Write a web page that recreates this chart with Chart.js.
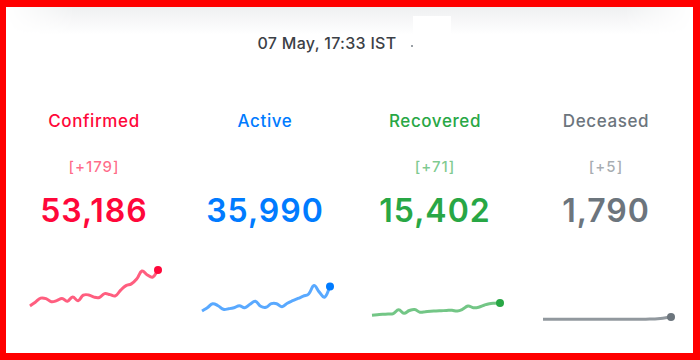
<!DOCTYPE html>
<html>
<head>
<meta charset="utf-8">
<script src="https://cdn.jsdelivr.net/npm/chart.js@4"></script>
<style>
  html,body{margin:0;padding:0;}
  body{width:700px;height:360px;position:relative;overflow:hidden;background:#ff0000;font-family:Inter,"Noto Sans",sans-serif;}
  #panel{position:absolute;left:6px;top:7px;width:687px;height:346px;background:#fff;overflow:hidden;}
  #shade{position:absolute;left:0;top:0;width:100%;height:28px;background:linear-gradient(#eff0f1,#fff);
         -webkit-mask-image:linear-gradient(90deg,transparent,#000 10%,#000 90%,transparent);}
  #patch{position:absolute;left:407px;top:9px;width:38px;height:28px;background:#fff;}
  #dot{position:absolute;left:405px;top:38px;width:2px;height:2px;background:#9aa0a6;}
  .abs{position:absolute;text-align:center;white-space:nowrap;}
  #ts{left:0;width:642px;top:26px;font-size:16px;color:#3b4046;font-weight:500;letter-spacing:0.3px;}
  .lbl{font-size:17px;font-weight:500;width:170px;letter-spacing:0.6px;}
  .dlt{font-size:15px;font-weight:500;width:170px;letter-spacing:1px;}
  .num{font-size:32px;font-weight:600;width:170px;letter-spacing:1px;}
  canvas{position:absolute;}
</style>
</head>
<body>
<div id="panel">
  <div id="shade"></div>
  <div id="patch"></div>
  <div id="dot"></div>
  <div id="ts" class="abs">07 May, 17:33 IST</div>
</div>
<script>
// ---- data ----
const categories = ["Confirmed","Active","Recovered","Deceased"];
const totals = ["53,186","35,990","15,402","1,790"];
const deltas = ["[+179]","","[+71]","[+5]"];
const days = ["d1","d2","d3","d4","d5","d6","d7","d8","d9","d10","d11","d12","d13","d14","d15","d16","d17","d18","d19","d20","d21","d22","d23","d24","d25"];
const confirmedSeries = [15735,19616,23812,23288,20141,21190,23498,20665,25071,21190,26959,27169,24861,24547,28533,27484,26225,32204,36925,38708,43743,52135,47939,45841,53186];
const activeSeries = [10490,13847,18043,15945,12273,12798,13847,15945,13847,17518,20665,15420,14371,18043,18043,14896,18567,21190,23498,25910,28218,36925,30106,24861,35990];
const recoveredSeries = [5979,6504,7028,7238,7763,11749,8077,10910,11959,9126,9651,10175,10385,10700,11015,11224,10385,12273,15630,13847,14371,16469,18043,18567,18882];
const deceasedSeries = [1700,1720,1730,1740,1750,1760,1770,1770,1780,1790,1800,1810,1820,1830,1840,1850,1860,1880,1900,1930,1990,2150,2600,3300,4196];

const seriesList = [confirmedSeries, activeSeries, recoveredSeries, deceasedSeries];
const mainColors = ["#ff073a","#007bff","#28a745","#6c757d"];
const lineColors = ["rgba(255,7,58,0.65)","rgba(0,123,255,0.65)","rgba(40,167,69,0.65)","rgba(108,117,125,0.75)"];
const deltaColors = ["rgba(255,7,58,0.6)","rgba(0,123,255,0.6)","rgba(40,167,69,0.6)","rgba(108,117,125,0.6)"];

const panel = document.getElementById('panel');
const colLeft = [3, 174, 344, 515];
const chartLeft = [18, 189.7, 359.7, 530.7];
const yMax = 53186;

categories.forEach((name, i) => {
  const l = document.createElement('div');
  l.className = 'abs lbl'; l.style.left = colLeft[i] + 'px'; l.style.top = '104px';
  l.style.color = mainColors[i]; l.textContent = name; panel.appendChild(l);
  const d = document.createElement('div');
  d.className = 'abs dlt'; d.style.left = colLeft[i] + 'px'; d.style.top = '150px';
  d.style.color = deltaColors[i]; d.textContent = deltas[i]; panel.appendChild(d);
  const n = document.createElement('div');
  n.className = 'abs num'; n.style.left = colLeft[i] + 'px'; n.style.top = '184px';
  n.style.color = mainColors[i]; n.textContent = totals[i]; panel.appendChild(n);

  const c = document.createElement('canvas');
  c.width = 140; c.height = 63;
  c.style.left = chartLeft[i] + 'px'; c.style.top = '257px';
  c.style.width = '140px'; c.style.height = '63px';
  panel.appendChild(c);
  const data = seriesList[i];
  const radii = data.map((v, k) => k === data.length - 1 ? 4 : 0);
  new Chart(c, {
    type: 'line',
    data: {
      labels: days,
      datasets: [{
        data: data,
        borderColor: lineColors[i],
        borderWidth: 3,
        tension: 0.4,
        pointRadius: radii,
        pointBackgroundColor: mainColors[i],
        pointBorderColor: mainColors[i],
        pointBorderWidth: 0,
        fill: false,
        clip: false
      }]
    },
    options: {
      responsive: false,
      animation: false,
      layout: { padding: 6 },
      plugins: { legend: { display: false }, tooltip: { enabled: false } },
      scales: {
        x: { display: false },
        y: { display: false, min: 0, max: yMax }
      }
    }
  });
});
</script>
</body>
</html>
